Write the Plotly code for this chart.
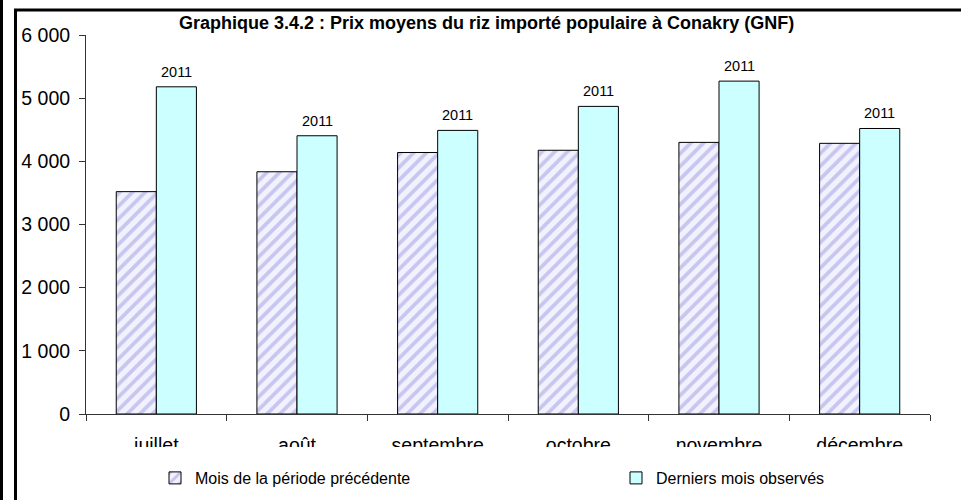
import plotly.graph_objects as go

# Average price of popular imported rice in Conakry (GNF)
months = ["juillet", "août", "septembre", "octobre", "novembre", "décembre"]
prev_period = [3520, 3835, 4140, 4175, 4300, 4285]
last_observed = [5180, 4405, 4490, 4870, 5270, 4520]
year_labels = ["2011", "2011", "2011", "2011", "2011", "2011"]

y_ticks = [0, 1000, 2000, 3000, 4000, 5000, 6000]

FONT = "Liberation Sans, Arial, sans-serif"
W, H = 961, 500
ML, MR, MT, MB = 86, 31, 35, 86
PW, PH = W - ML - MR, H - MT - MB


def px_x(p):
    """Pixel column -> paper x."""
    return (p - ML) / PW


def px_y(p):
    """Pixel row -> paper y."""
    return (H - MB - p) / PH


BARGAP = 0.43

fig = go.Figure()
fig.add_trace(go.Bar(
    x=months, y=prev_period, name="Mois de la période précédente",
    marker=dict(color="#F2F2FF", line=dict(color="#000000", width=1),
                pattern=dict(shape="/", fgcolor="#9A9ADE", bgcolor="#F2F2FF",
                             size=9, solidity=0.42)),
    hoverinfo="skip", legend="legend",
))
fig.add_trace(go.Bar(
    x=months, y=last_observed, name="Derniers mois observés",
    marker=dict(color="#CCFFFF", line=dict(color="#000000", width=1)),
    hoverinfo="skip", legend="legend2",
))

# year labels over the "last observed" bars
bar_w = (1 - BARGAP) / 2
for i, (v, lab) in enumerate(zip(last_observed, year_labels)):
    fig.add_annotation(x=i + bar_w / 2, y=v, xref="x", yref="y", text=lab,
                       showarrow=False, yanchor="bottom", yshift=5,
                       font=dict(family=FONT, size=14.5, color="#000000"))

# title
fig.add_annotation(x=px_x(486), y=px_y(23.5), xref="paper", yref="paper",
                   text="<b>Graphique 3.4.2 : Prix moyens du riz importé populaire à Conakry (GNF)</b>",
                   showarrow=False, xanchor="center", yanchor="middle",
                   font=dict(family=FONT, size=18, color="#000000"))

# frame outline as one path: outer left rule, then the inner box edge
TOP_RULE = 10
frame_path = (
    f"M {px_x(1.5)},{px_y(-5)} L {px_x(1.5)},{px_y(505)} "
    f"M {px_x(15.5)},{px_y(505)} L {px_x(15.5)},{px_y(TOP_RULE)} "
    f"L {px_x(970)},{px_y(TOP_RULE)}"
)

shapes = [
    # mask hiding the lower part of the category labels
    dict(type="rect", xref="paper", yref="paper", layer="above",
         x0=px_x(18), x1=px_x(961), y0=px_y(447), y1=px_y(500),
         fillcolor="#FFFFFF", line=dict(width=0)),
    dict(type="path", xref="paper", yref="paper", layer="above",
         path=frame_path, line=dict(color="#000000", width=3)),
]

legend_common = dict(orientation="h", xanchor="left", yanchor="middle",
                     font=dict(family=FONT, size=16, color="#000000"),
                     bgcolor="rgba(0,0,0,0)")

fig.update_layout(
    width=W, height=H,
    margin=dict(l=ML, r=MR, t=MT, b=MB, pad=0, autoexpand=False),
    paper_bgcolor="#FFFFFF", plot_bgcolor="#FFFFFF",
    barmode="group", bargap=BARGAP, bargroupgap=0,
    separators=", ",
    font=dict(family=FONT, color="#000000"),
    shapes=shapes,
    showlegend=True,
    legend=dict(x=px_x(155), y=px_y(478), **legend_common),
    legend2=dict(x=px_x(616), y=px_y(478), **legend_common),
    xaxis=dict(type="category", showline=True, linecolor="#333333", linewidth=1,
               ticks="outside", ticklen=6, tickcolor="#333333",
               tickson="boundaries", showgrid=False,
               tickfont=dict(family=FONT, size=19.5, color="#000000"),
               ticklabelstandoff=14),
    yaxis=dict(range=[0, 6000], tickvals=y_ticks, tickformat=",d",
               showline=True, linecolor="#333333", linewidth=1,
               ticks="outside", ticklen=6, tickcolor="#333333",
               showgrid=False, zeroline=False,
               tickfont=dict(family=FONT, size=19.5, color="#000000"),
               ticklabelstandoff=5),
)

fig.write_html("out.html")
